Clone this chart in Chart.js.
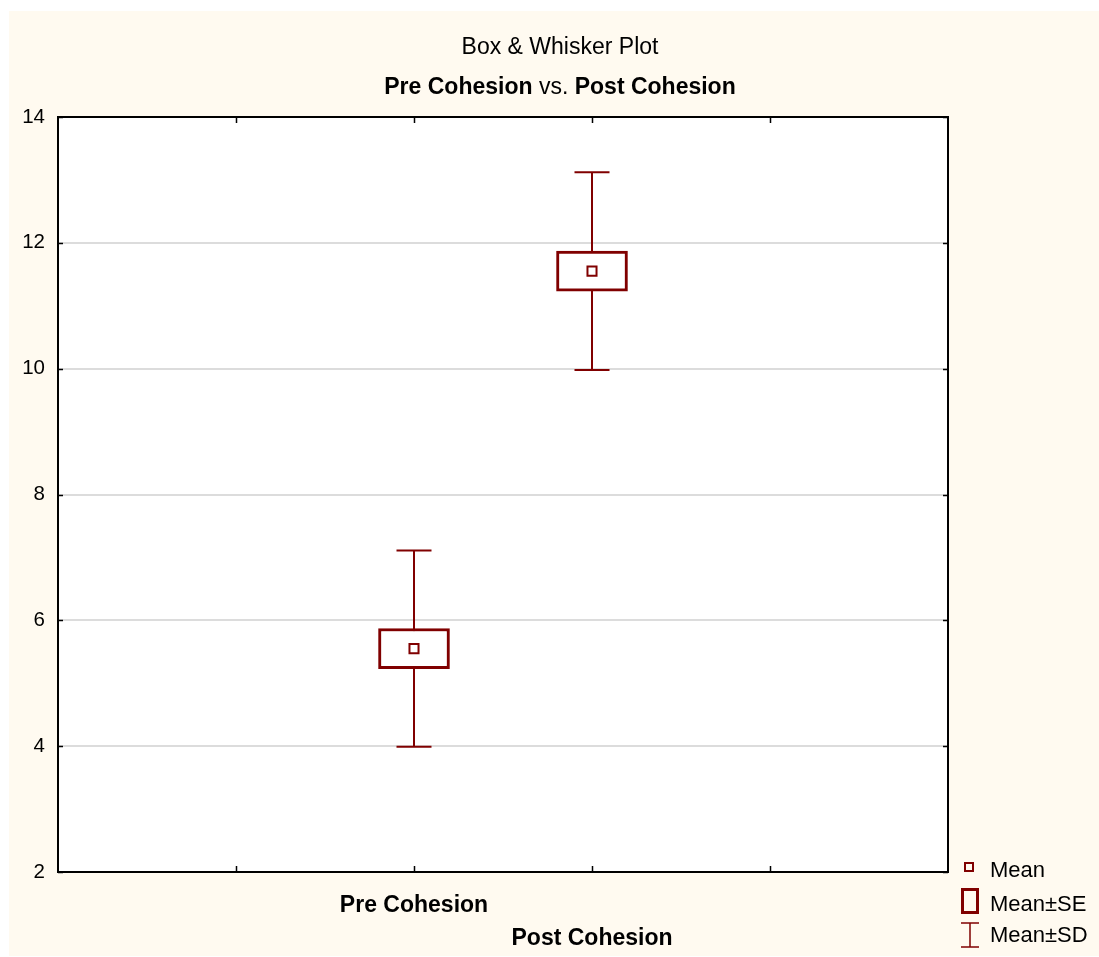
<!DOCTYPE html>
<html>
<head>
<meta charset="utf-8">
<script src="https://cdn.jsdelivr.net/npm/chart.js@4"></script>
<style>
  html, body { margin: 0; padding: 0; background: #fff; }
  canvas { display: block; }
</style>
</head>
<body>
<canvas id="c" width="1099" height="957"></canvas>
<script>
// Summary statistics per variable
const categories = ['Pre Cohesion', 'Post Cohesion'];
const means = [5.55, 11.55];
const stdErrors = [0.32, 0.32];
const stdDevs = [1.56, 1.57];
const yTicks = [2, 4, 6, 8, 10, 12, 14];
const legendLabels = ['Mean', 'Mean±SE', 'Mean±SD'];
const titleLine = 'Box & Whisker Plot';

const MAROON = '#800000';
const FONT = "'Liberation Sans', Arial, Helvetica, sans-serif";

// variables sit on the inner ticks of a 0..5 axis, the first on tick 2
const slot = i => i + 2;
const X_MAX = categories.length + 3;

const seBoxes = categories.map((_, i) => ({ x: slot(i), y: [means[i] - stdErrors[i], means[i] + stdErrors[i]] }));
const whiskers = [];
categories.forEach((_, i) => {
  whiskers.push({ x: slot(i), y: means[i] - stdDevs[i] });
  whiskers.push({ x: slot(i), y: means[i] + stdDevs[i] });
  whiskers.push({ x: slot(i) + 0.5, y: null });
});
const meanPoints = categories.map((_, i) => ({ x: slot(i), y: means[i] }));

const decor = {
  id: 'decor',
  beforeDraw(chart) {
    const { ctx, chartArea: a } = chart;
    ctx.save();
    ctx.fillStyle = '#ffffff';
    ctx.fillRect(0, 0, chart.width, chart.height);
    ctx.fillStyle = '#fffaf0';
    ctx.fillRect(9, 11, chart.width - 9, chart.height - 12);
    ctx.fillStyle = '#ffffff';
    ctx.fillRect(a.left, a.top, a.right - a.left, a.bottom - a.top);
    ctx.restore();
  },
  afterDatasetsDraw(chart) {
    const { ctx, chartArea: a, scales: { x, y } } = chart;
    ctx.save();
    ctx.strokeStyle = '#000';
    ctx.lineWidth = 2;
    ctx.strokeRect(a.left, a.top, a.right - a.left, a.bottom - a.top);
    // inward tick marks on all four sides
    ctx.lineWidth = 1.5;
    ctx.beginPath();
    for (let v = 1; v < X_MAX; v++) {
      const px = Math.round(x.getPixelForValue(v)) + 0.5;
      ctx.moveTo(px, a.bottom); ctx.lineTo(px, a.bottom - 6);
      ctx.moveTo(px, a.top); ctx.lineTo(px, a.top + 6);
    }
    yTicks.forEach(v => {
      const py = Math.round(y.getPixelForValue(v)) + 0.5;
      ctx.moveTo(a.left, py); ctx.lineTo(a.left + 5, py);
      ctx.moveTo(a.right, py); ctx.lineTo(a.right - 5, py);
    });
    ctx.stroke();
    ctx.restore();
  },
  afterDraw(chart) {
    const { ctx } = chart;
    ctx.save();
    ctx.fillStyle = '#000';
    ctx.textBaseline = 'alphabetic';
    // title
    ctx.font = `23px ${FONT}`;
    ctx.textAlign = 'center';
    ctx.fillText(titleLine, 560, 54);
    // subtitle with mixed weights
    const parts = [
      [categories[0], 'bold'], [' vs. ', 'normal'], [categories[1], 'bold']
    ];
    let total = 0;
    parts.forEach(p => { ctx.font = `${p[1]} 23px ${FONT}`; p.push(ctx.measureText(p[0]).width); total += p[2]; });
    let cx = 560 - total / 2;
    ctx.textAlign = 'left';
    parts.forEach(p => { ctx.font = `${p[1]} 23px ${FONT}`; ctx.fillText(p[0], cx, 94); cx += p[2]; });

    // legend
    ctx.font = `22px ${FONT}`;
    const baselines = [877, 911, 942];
    legendLabels.forEach((t, i) => ctx.fillText(t, 990, baselines[i]));
    ctx.strokeStyle = MAROON;
    ctx.lineWidth = 2;
    ctx.strokeRect(965, 863, 8, 8);
    ctx.lineWidth = 3;
    ctx.strokeRect(962.5, 889.5, 15, 23);
    ctx.lineWidth = 1.5;
    ctx.beginPath();
    ctx.moveTo(961, 923); ctx.lineTo(979, 923);
    ctx.moveTo(961, 947); ctx.lineTo(979, 947);
    ctx.moveTo(970, 923); ctx.lineTo(970, 947);
    ctx.stroke();
    ctx.restore();
  }
};

new Chart(document.getElementById('c'), {
  type: 'bar',
  data: {
    datasets: [
      {
        type: 'scatter',
        data: meanPoints,
        pointStyle: 'rect',
        pointRadius: 6.4,
        pointBorderWidth: 2,
        pointBorderColor: MAROON,
        pointBackgroundColor: '#fff',
        order: 0
      },
      {
        type: 'bar',
        data: seBoxes,
        backgroundColor: '#fff',
        borderColor: MAROON,
        borderWidth: 3,
        borderSkipped: false,
        barThickness: 71,
        order: 1
      },
      {
        type: 'line',
        data: whiskers,
        borderColor: MAROON,
        borderWidth: 2,
        spanGaps: false,
        fill: false,
        pointStyle: 'line',
        pointRadius: 17.5,
        pointBorderWidth: 2,
        pointBorderColor: MAROON,
        order: 2
      }
    ]
  },
  options: {
    responsive: false,
    animation: false,
    events: [],
    layout: { padding: { top: 117, right: 151, left: 0, bottom: 0 } },
    plugins: { legend: { display: false }, tooltip: { enabled: false }, title: { display: false } },
    scales: {
      x: {
        type: 'linear',
        offset: false,
        min: 0,
        max: X_MAX,
        afterFit(s) { s.height = 85; },
        afterBuildTicks(s) {
          const t = [];
          for (let v = 0; v <= X_MAX; v++) t.push({ value: v });
          s.ticks = t;
        },
        grid: { display: false, drawTicks: false, offset: false },
        border: { display: false },
        ticks: {
          autoSkip: false,
          maxRotation: 0,
          minRotation: 0,
          padding: 17,
          color: '#000',
          font: { family: FONT, size: 23, weight: 'bold', lineHeight: 1.43 },
          callback(v) {
            const i = v - 2;
            if (i < 0 || i >= categories.length) return '';
            return categories.map((c, k) => (k === i ? c : ''));
          }
        }
      },
      y: {
        min: yTicks[0],
        max: yTicks[yTicks.length - 1],
        afterFit(s) { s.width = 58; },
        afterBuildTicks(s) { s.ticks = yTicks.map(v => ({ value: v })); },
        grid: { color: '#dcdcdc', lineWidth: 2, drawTicks: false },
        border: { display: false },
        ticks: { padding: 13, color: '#000', font: { family: FONT, size: 20.5 } }
      }
    }
  },
  plugins: [decor]
});
</script>
</body>
</html>
